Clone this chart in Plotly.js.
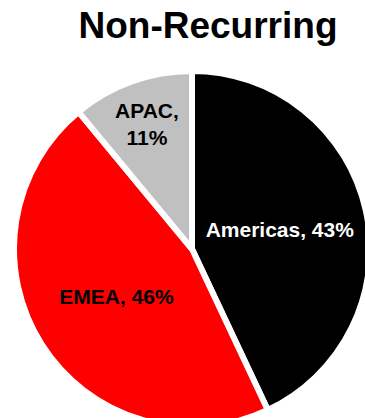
<!DOCTYPE html>
<html>
<head>
<meta charset="utf-8">
<script src="https://cdn.plot.ly/plotly-3.0.1.min.js"></script>
<style>
html,body{margin:0;padding:0;overflow:hidden;background:#fff;width:365px;height:418px;}
#chart{width:380px;height:430px;}
</style>
</head>
<body>
<div id="chart"></div>
<script>
const regions = ["Americas", "EMEA", "APAC"];
const shares = [43, 46, 11];
const sliceColors = ["#000000", "#FF0000", "#C0C0C0"];
const labelColors = ["#FFFFFF", "#000000", "#000000"];
const labelTemplates = ["%{label}, %{value}%", "%{label}, %{value}%", "%{label},<br>%{value}%"];

const trace = {
  type: "pie",
  labels: regions,
  values: shares,
  sort: false,
  direction: "clockwise",
  rotation: 0,
  marker: {colors: sliceColors, line: {color: "#FFFFFF", width: 6}},
  texttemplate: labelTemplates,
  textposition: "inside",
  insidetextorientation: "horizontal",
  insidetextfont: {family: "Liberation Sans, Arial, sans-serif", size: 21, color: labelColors, weight: "bold"},
  hoverinfo: "none",
  showlegend: false
};

const layout = {
  width: 380,
  height: 430,
  margin: {l: 14, r: 10, t: 71, b: 3},
  paper_bgcolor: "#FFFFFF",
  title: {
    text: "<b>Non-Recurring</b>",
    font: {family: "Liberation Sans, Arial, sans-serif", size: 37, color: "#000000"},
    xref: "container", yref: "container",
    x: 208/380, xanchor: "center",
    y: 1 - 25/430, yanchor: "middle"
  }
};

Plotly.newPlot("chart", [trace], layout, {displayModeBar: false, staticPlot: true});
</script>
</body>
</html>
